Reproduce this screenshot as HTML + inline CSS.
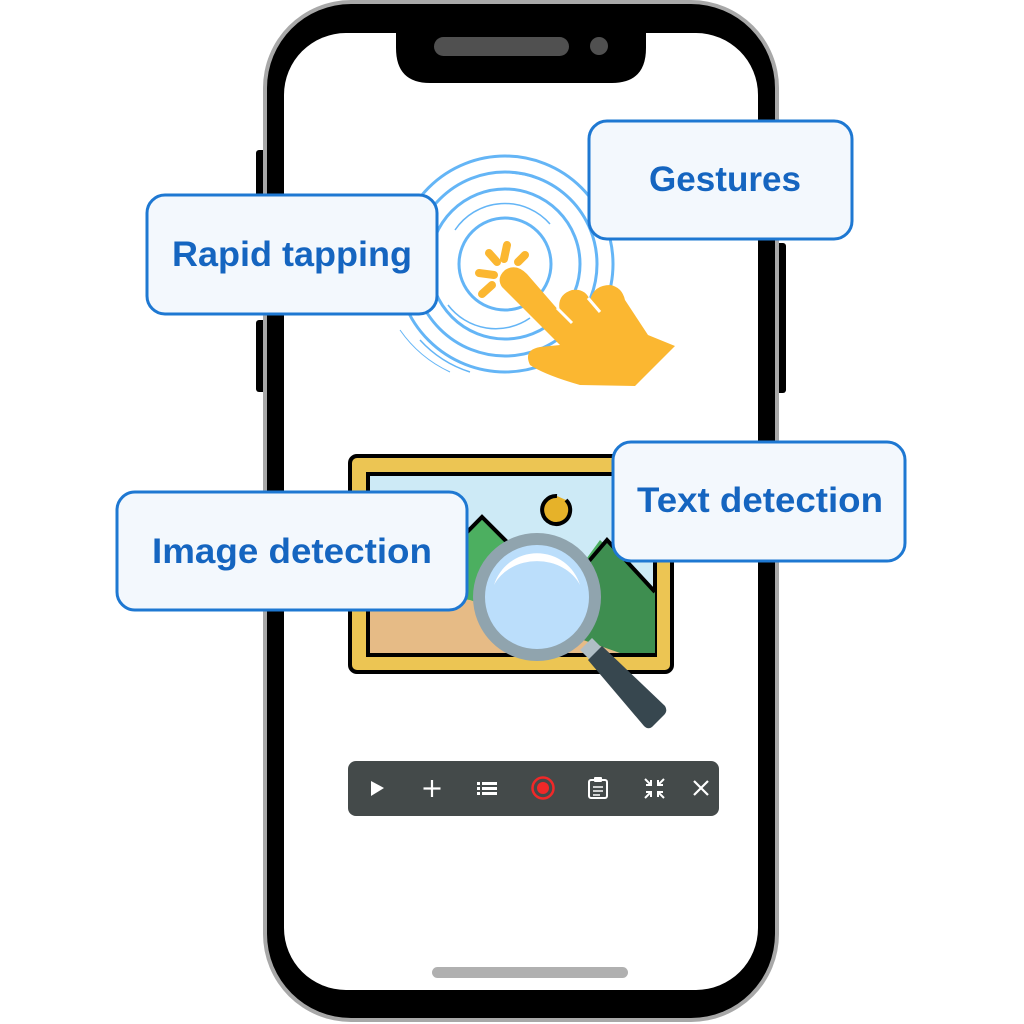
<!DOCTYPE html>
<html><head><style>
html,body{margin:0;padding:0;background:#fff;}
svg{display:block;}
text{font-family:"Liberation Sans",sans-serif;font-weight:bold;fill:#1565c0;}
</style></head><body>
<svg width="1024" height="1024" viewBox="0 0 1024 1024">
<rect x="256" y="150" width="10" height="72" rx="3" fill="#000"/>
<rect x="256" y="320" width="10" height="72" rx="3" fill="#000"/>
<rect x="776" y="243" width="10" height="150" rx="3" fill="#000"/>
<rect x="263" y="0" width="516" height="1022" rx="88" fill="#a8a8a8"/>
<rect x="267" y="4" width="508" height="1014" rx="84" fill="#000"/>
<rect x="284" y="33" width="474" height="957" rx="62" fill="#fff"/>
<path d="M396 33 H646 V48 Q646 83 612 83 H430 Q396 83 396 48 Z" fill="#000"/>
<rect x="434" y="37" width="135" height="19" rx="9.5" fill="#505050"/>
<circle cx="599" cy="46" r="9" fill="#505050"/>
<rect x="432" y="967" width="196" height="11" rx="5.5" fill="#b0b0b0"/>

<g fill="none" stroke="#64b5f6">
<circle cx="505" cy="264" r="46" stroke-width="3"/>
<path d="M455 230 A60 60 0 0 1 550 224" stroke-width="1.5"/>
<path d="M448 305 A60 60 0 0 0 530 318" stroke-width="1.5"/>
<circle cx="505" cy="264" r="75" stroke-width="3"/>
<circle cx="505" cy="264" r="92" stroke-width="3"/>
<path d="M512 173 A92 92 0 0 1 590 230" stroke-width="1.5"/>
<circle cx="505" cy="264" r="108" stroke-width="3"/>
<path d="M420 340 A115 115 0 0 0 470 372" stroke-width="1.5"/>
<path d="M400 330 A125 125 0 0 0 450 372" stroke-width="1"/>
</g>
<g stroke="#fbb731" stroke-width="8" stroke-linecap="round">
<line x1="507" y1="245" x2="504" y2="259"/>
<line x1="489" y1="253" x2="497" y2="262"/>
<line x1="525" y1="255" x2="518" y2="262"/>
<line x1="479" y1="273" x2="494" y2="275"/>
<line x1="482" y1="294" x2="492" y2="285"/>
</g>
<path d="M505 270 Q516 263 527 274 L560 312 Q556 295 572 290 Q585 288 590 300 Q594 285 610 285 Q622 287 625 300 L648 335 L675 346 L635 386 L580 385 Q545 375 530 365 Q523 350 540 347 L560 345 L502 287 Q496 278 505 270 Z" fill="#fbb731"/>
<path d="M557 308 L572 323 M588 298 L600 312" stroke="#fff" stroke-width="3"/>

<rect x="350" y="456" width="322" height="216" rx="7" fill="#ecc553" stroke="#000" stroke-width="4"/>
<rect x="368" y="474" width="287" height="181" fill="#cdeaf6" stroke="#000" stroke-width="4"/>
<path d="M400 600 L482 517 L560 595 L600 540 L655 592 V653 H370 V600 Z" fill="#4caf60"/>
<path d="M560 595 L607 540 L655 592 V653 H590 Z" fill="#3e8e50"/>
<path d="M370 585 L470 600 L620 653 H370 Z" fill="#e6bb86"/>
<path d="M400 600 L482 517 L560 595 M560 595 L607 540 L655 592" fill="none" stroke="#000" stroke-width="4"/>
<path d="M566 500 A14 14 0 1 1 557 496" fill="#e6b229" stroke="#000" stroke-width="4"/>
<path d="M580 650 L592 638 L603 649 L591 661 Z" fill="#b0bec5"/>
<path d="M588 660 L602 646 L665 706 Q668 711 664 715 L652 727 Q648 730 644 726 Z" fill="#37474f"/>
<circle cx="537" cy="597" r="58" fill="#bbdefb" stroke="#90a4ae" stroke-width="12"/>
<path d="M494 585 A45 45 0 0 1 580 585 A47 40 0 0 0 494 585 Z" fill="#fff"/>

<rect x="348" y="761" width="371" height="55" rx="8" fill="#444a4a"/>
<g fill="#fff" stroke="#fff">
<path d="M371 781 L384 788 L371 796 Z" stroke="none"/>
<path d="M432 780 V797 M423.5 788.5 H440.5" stroke-width="2.2" fill="none"/>
<g stroke="none"><rect x="477" y="782" width="3" height="3"/><rect x="482" y="782" width="15" height="3"/>
<rect x="477" y="787" width="3" height="3"/><rect x="482" y="787" width="15" height="3"/>
<rect x="477" y="792" width="3" height="3"/><rect x="482" y="792" width="15" height="3"/></g>
<circle cx="543" cy="788" r="10.5" fill="none" stroke="#f02828" stroke-width="2.5"/>
<circle cx="543" cy="788" r="6" fill="#f02828" stroke="none"/>
<rect x="589" y="780" width="18" height="18" rx="2" fill="none" stroke-width="2"/>
<rect x="594" y="777" width="8" height="5" rx="1" stroke="none"/>
<path d="M593 787 H603 M593 791 H603 M593 795 H600" stroke-width="1.6" fill="none"/>
<path d="M645 779 L651 785 M651 780 V785 H646 M664 779 L658 785 M658 780 V785 H663 M645 798 L651 792 M651 797 V792 H646 M664 798 L658 792 M658 797 V792 H663" stroke-width="2" fill="none"/>
<path d="M694 781 L708 795 M708 781 L694 795" stroke-width="2.2" fill="none"/>
</g>

<g fill="#f3f8fd" stroke="#1e78d2" stroke-width="3">
<rect x="147" y="195" width="290" height="119" rx="18"/>
<rect x="589" y="121" width="263" height="118" rx="18"/>
<rect x="613" y="442" width="292" height="119" rx="18"/>
<rect x="117" y="492" width="350" height="118" rx="18"/>
</g>
<text x="292" y="266" font-size="35" text-anchor="middle" textLength="240" lengthAdjust="spacingAndGlyphs">Rapid tapping</text>
<text x="725" y="191" font-size="35" text-anchor="middle" textLength="152" lengthAdjust="spacingAndGlyphs">Gestures</text>
<text x="760" y="512" font-size="35" text-anchor="middle" textLength="246" lengthAdjust="spacingAndGlyphs">Text detection</text>
<text x="292" y="563" font-size="35" text-anchor="middle" textLength="280" lengthAdjust="spacingAndGlyphs">Image detection</text>
</svg>
</body></html>
